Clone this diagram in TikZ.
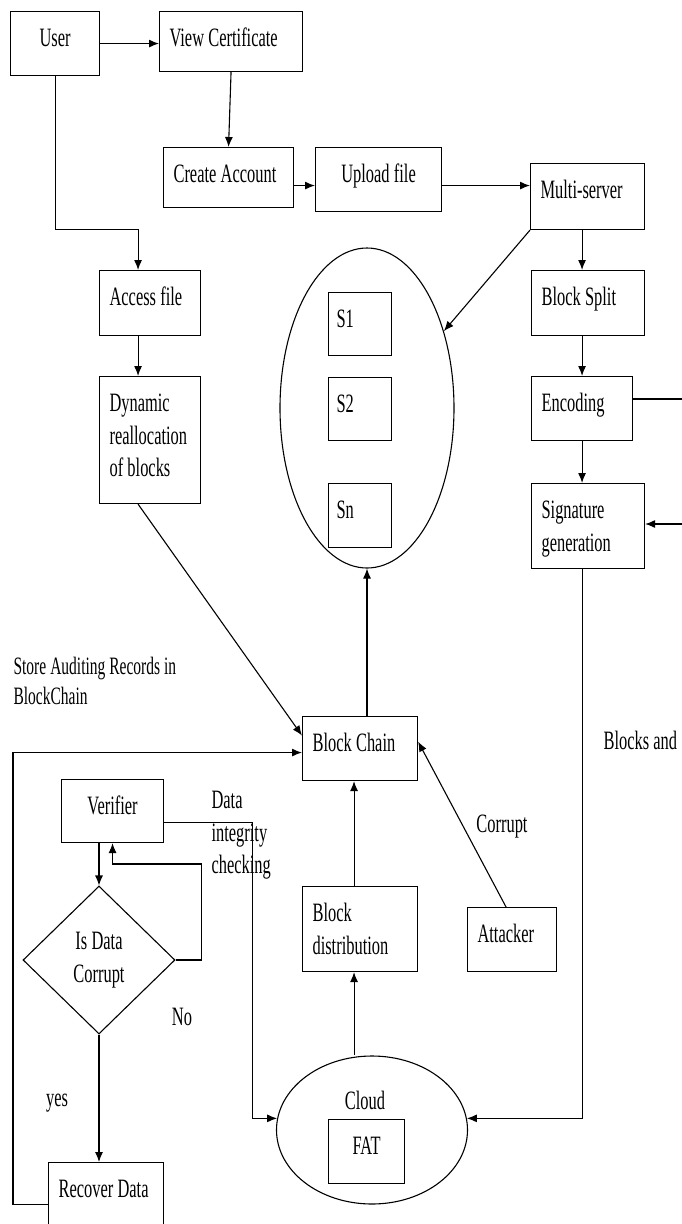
\documentclass[tikz,border=0pt]{standalone}
\usepackage{fontspec}
\setmainfont{Liberation Serif}[FakeStretch=0.62, WordSpace=0.62]
\usetikzlibrary{shapes.geometric, arrows.meta, positioning, calc}

\begin{document}
\begin{tikzpicture}[
  x=1pt, y=-1pt,
  font=\fontsize{26.5pt}{32.5pt}\selectfont,
  line width=1.1pt,
  every node/.style={execute at begin node={\spaceskip=0.16em\relax}},
  block/.style={rectangle, draw, anchor=north west, align=left, inner xsep=10pt, inner ysep=6pt, text height=29pt, text depth=23pt},
  cblock/.style={block, align=center},
  pool/.style={ellipse, draw, inner sep=0pt},
  decision/.style={diamond, draw, inner sep=0pt, align=center},
  ann/.style={align=left, inner sep=0pt},
  arrow/.style={-{Latex[length=10pt, width=8pt]}},
]
\useasboundingbox (0,0) rectangle (681,1224);

% Main Flow
\node[cblock, text width=69pt] (user) at (10,11) {User};
\node[block, text width=123pt, text depth=19pt] (viewcert) at (159,11) {View Certificate};
\node[block, text width=110pt, text depth=19pt] (account) at (163,147) {Create Account};
\node[cblock, text width=106pt] (upload) at (315,147) {Upload file};
\node[block, text width=94pt, text depth=25pt] (multi) at (530,163) {Multi-server};
\node[block, text width=93pt, text depth=24pt] (split) at (531,270) {Block Split};
\node[block, text width=81pt] (encoding) at (531,376) {Encoding};
\node[block, text width=93pt, text depth=44pt] (signature) at (531,483) {Signature\\generation};

% User side
\node[block, text width=81pt, text depth=24pt] (access) at (99,270) {Access file};
\node[block, text width=81pt, text depth=86pt] (dynamic) at (99,376) {Dynamic\\reallocation\\of blocks};

% Servers
\node[pool, minimum width=174pt, minimum height=320pt] (servers) at (367,408) {};
\node[block, inner xsep=8pt, text width=47pt, text depth=22pt] (s1) at (328,292) {S1};
\node[block, inner xsep=8pt, text width=47pt, text depth=22pt] (s2) at (328,377) {S2};
\node[block, inner xsep=8pt, text width=47pt] (sn) at (328,483) {Sn};

% Chain and cloud
\node[block, text width=95pt] (chain) at (302,716) {Block Chain};
\node[block, text width=95pt, text depth=44pt] (distrib) at (302,886) {Block\\distribution};
\node[block, text width=69pt] (attacker) at (467,907) {Attacker};
\node[pool, minimum width=191pt, minimum height=148pt] (cloud) at (372,1130) {};
\node (cloudtxt) at (365,1100) {Cloud};
\node[cblock, text width=56pt] (fat) at (328,1119) {FAT};

% Verification
\node[cblock, text width=82pt, text depth=22pt] (verifier) at (61,779) {Verifier};
\node[decision, minimum width=152pt, minimum height=148pt] (check) at (99,960) {Is Data\\Corrupt};
\node[block, text width=95pt] (recover) at (48,1162) {Recover Data};

% Annotations
\node[ann, anchor=north west, font=\fontsize{25pt}{30pt}\selectfont] (store) at (13,657) {Store Auditing Records in\\BlockChain};
\node[ann, anchor=west] (blocksand) at (603,740) {Blocks and};
\node[ann, anchor=north west] (integrity) at (211,791) {Data\\integrity\\checking};
\node[ann] (lblcorrupt) at (502,827) {Corrupt};
\node[ann] (lblno) at (182,1017) {No};
\node[ann] (lblyes) at (57,1103) {yes};

% Connections
\draw[arrow] (user.east) -- (user.east -| viewcert.west);
\draw[arrow] (viewcert.south) -- (account.north);
\draw[arrow] ([yshift=-8pt]account.east) -- ([yshift=-8pt]account.east -| upload.west);
\draw[arrow] ([yshift=-6pt]upload.east) -- ([yshift=-6pt]upload.east -| multi.west);
\draw[arrow] (multi.south west) -- (servers.45);
\draw[arrow] (encoding.north |- multi.south) -- (encoding.north |- split.north);
\draw[arrow] (encoding.north |- split.south) -- (encoding.north);
\draw[arrow] (encoding.south) -- (encoding.south |- signature.north);

\coordinate (encout) at (690,399);
\coordinate (sigin) at (690,524);
\draw (encoding.east |- encout) -- (encout);
\draw[arrow] (sigin) -- (sigin -| signature.east);
\draw[arrow] (encoding.south |- signature.south) |- (cloud.7);

\draw[arrow] (user.south) -- ++(0,153) -| ([xshift=-12pt]access.north);
\draw[arrow] ([xshift=-12pt]access.south) -- ([xshift=-12pt]dynamic.north);
\draw[arrow] ([xshift=-12pt]dynamic.south) -- ([yshift=13pt]chain.west);

\draw[arrow] (chain.north -| servers.south) -- (servers.south);
\draw[arrow] ([xshift=-6pt]distrib.north) -- ([xshift=-6pt]chain.south);
\draw[arrow] ([xshift=-6pt]distrib.south |- cloud.north) -- ([xshift=-6pt]distrib.south);
\draw[arrow] ([xshift=-6pt]attacker.north) -- ([yshift=7pt]chain.east);

\draw[arrow] ([yshift=-10pt]recover.west) -- ++(-35,0) |- ([yshift=-4pt]chain.west);
\draw[arrow] (verifier.south -| check.north) -- (check.north);
\draw[arrow] (check.east) -| ++(26,-96) -| (verifier.south);
\draw[arrow] (check.south) -- (check.south |- recover.north);
\draw[arrow] ([yshift=-11pt]verifier.east) -- ++(88,0) |- (cloud.173);

\end{tikzpicture}
\end{document}
